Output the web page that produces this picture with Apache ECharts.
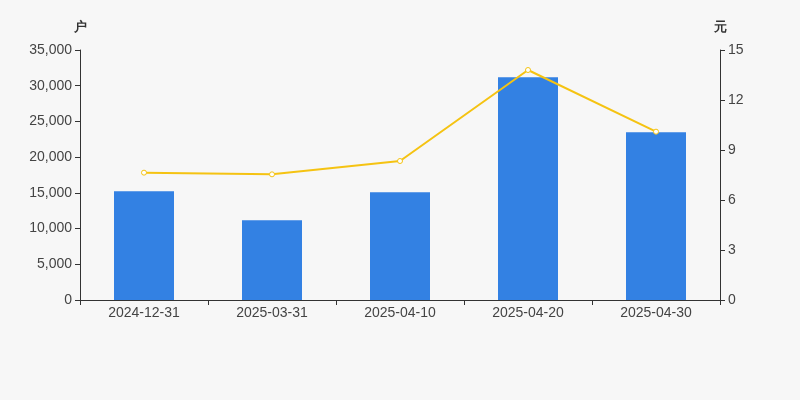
<!DOCTYPE html>
<html><head><meta charset="utf-8">
<script src="https://cdn.jsdelivr.net/npm/echarts@6/dist/echarts.min.js"></script>
<style>html,body{margin:0;padding:0;background:#f7f7f7}#c{width:800px;height:400px}</style>
</head><body><div id="c"></div>
<script>
const categories = ['2024-12-31','2025-03-31','2025-04-10','2025-04-20','2025-04-30'];
const holders = [15220, 11160, 15080, 31170, 23470];
const price = [7.64, 7.54, 8.34, 13.8, 10.1];
const leftTicks = { min: 0, max: 35000, interval: 5000 };
const rightTicks = { min: 0, max: 15, interval: 3 };

const chart = echarts.init(document.getElementById('c'));
const FONT = '"Liberation Sans", Arial, sans-serif';
const axisCommon = {
  axisLine: { show: true, lineStyle: { color: '#333' } },
  axisTick: { show: true, length: 5, lineStyle: { color: '#333' } },
  axisLabel: { color: '#444', fontSize: 14, fontFamily: FONT },
  splitLine: { show: false },
  nameTextStyle: { color: '#333', fontSize: 13, fontWeight: 'bold' }
};
chart.setOption({
  backgroundColor: '#f7f7f7',
  animation: false,
  grid: { left: 80, right: 80, top: 50, bottom: 100 },
  xAxis: {
    type: 'category', data: categories,
    axisLine: { lineStyle: { color: '#333' } },
    axisTick: { show: true, length: 5, lineStyle: { color: '#333' } },
    axisLabel: { color: '#444', fontSize: 14, fontFamily: FONT, margin: 6 }
  },
  yAxis: [
    Object.assign({ type: 'value', name: '户', nameGap: 16, position: 'left' }, leftTicks, axisCommon,
      { axisLabel: { color: '#444', fontSize: 14, fontFamily: FONT, formatter: v => v.toLocaleString('en-US') } }),
    Object.assign({ type: 'value', name: '元', nameGap: 16, position: 'right' }, rightTicks, axisCommon)
  ],
  series: [
    { type: 'bar', data: holders, yAxisIndex: 0, barWidth: 60,
      itemStyle: { color: '#3381e3' } },
    { type: 'line', data: price, yAxisIndex: 1, symbol: 'circle', symbolSize: 5,
      lineStyle: { color: '#f5c312', width: 2 },
      itemStyle: { color: '#fff', borderColor: '#f5c312', borderWidth: 1 } }
  ]
});
</script></body></html>
